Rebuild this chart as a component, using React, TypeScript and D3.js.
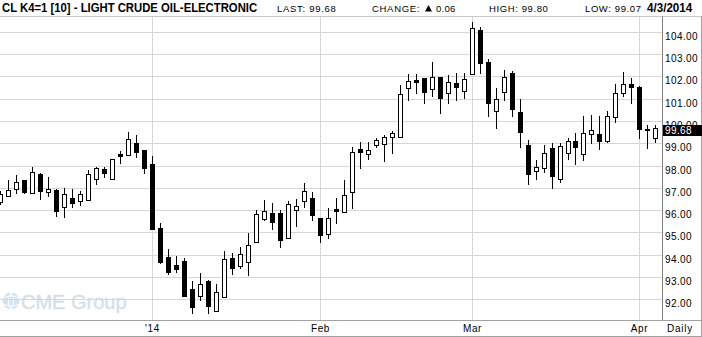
import React from 'react';
import * as d3 from 'd3';

const dates = [
  '2013-12-04','2013-12-05','2013-12-06','2013-12-09','2013-12-10','2013-12-11','2013-12-12','2013-12-13',
  '2013-12-16','2013-12-17','2013-12-18','2013-12-19','2013-12-20','2013-12-23','2013-12-24','2013-12-26',
  '2013-12-27','2013-12-30','2013-12-31',
  '2014-01-02','2014-01-03','2014-01-06','2014-01-07','2014-01-08','2014-01-09','2014-01-10','2014-01-13',
  '2014-01-14','2014-01-15','2014-01-16','2014-01-17','2014-01-21','2014-01-22','2014-01-23','2014-01-24',
  '2014-01-27','2014-01-28','2014-01-29','2014-01-30','2014-01-31',
  '2014-02-03','2014-02-04','2014-02-05','2014-02-06','2014-02-07','2014-02-10','2014-02-11','2014-02-12',
  '2014-02-13','2014-02-14','2014-02-18','2014-02-19','2014-02-20','2014-02-21','2014-02-24','2014-02-25',
  '2014-02-26','2014-02-27','2014-02-28',
  '2014-03-03','2014-03-04','2014-03-05','2014-03-06','2014-03-07','2014-03-10','2014-03-11','2014-03-12',
  '2014-03-13','2014-03-14','2014-03-17','2014-03-18','2014-03-19','2014-03-20','2014-03-21','2014-03-24',
  '2014-03-25','2014-03-26','2014-03-27','2014-03-28','2014-03-31',
  '2014-04-01','2014-04-02','2014-04-03',
];

const opens = [
  96.37, 96.64, 96.94, 97.35, 96.76, 97.62, 96.83, 96.91, 96.13, 96.53,
  96.41, 96.44, 97.39, 97.85, 97.39, 98.52, 98.46, 99.00, 98.70, 98.07,
  95.19, 93.91, 93.54, 93.72, 92.47, 92.17, 92.83, 91.49, 92.12, 93.87,
  93.51, 93.69, 94.56, 95.62, 95.87, 95.87, 94.74, 95.99, 96.40, 96.53,
  95.64, 94.92, 96.05, 95.92, 96.80, 98.73, 98.51, 98.92, 98.97, 99.27,
  99.30, 101.47, 101.84, 101.91, 101.42, 101.96, 101.24, 101.69, 101.35, 102.09,
  104.08, 102.63, 100.45, 101.29, 102.17, 100.39, 98.92, 97.76, 97.88, 98.78,
  97.40, 98.55, 99.10, 98.51, 99.40, 99.40, 99.12, 100.19, 101.24, 101.66,
  101.51, 99.65, 99.22,
];
const highs = [
  96.85, 97.35, 97.58, 97.37, 97.95, 97.68, 97.47, 96.94, 96.98, 96.94,
  96.86, 97.80, 97.95, 97.95, 98.31, 98.65, 99.49, 99.37, 98.72, 98.43,
  95.41, 94.26, 93.95, 93.84, 92.83, 93.17, 92.85, 92.69, 94.17, 94.09,
  94.36, 94.96, 96.01, 96.46, 96.31, 96.01, 96.41, 96.49, 97.21, 96.83,
  95.66, 96.09, 96.53, 97.35, 98.85, 99.07, 99.07, 99.25, 99.35, 99.55,
  101.61, 102.11, 102.09, 101.93, 102.63, 101.98, 102.06, 102.17, 102.17, 104.45,
  104.20, 102.78, 101.47, 102.29, 102.24, 100.97, 99.15, 98.25, 98.92, 99.00,
  99.00, 99.22, 99.48, 100.22, 100.27, 100.22, 100.45, 101.66, 102.18, 101.91,
  101.57, 99.81, 99.80,
];
const lows = [
  96.30, 96.64, 96.76, 96.78, 96.76, 96.50, 96.64, 95.75, 95.71, 96.13,
  96.23, 96.44, 97.16, 97.47, 97.39, 98.13, 98.46, 98.40, 97.65, 95.14,
  93.65, 93.14, 93.24, 92.17, 91.38, 91.97, 91.40, 91.49, 92.12, 93.14,
  93.42, 93.09, 94.56, 95.56, 95.14, 94.36, 94.74, 95.31, 96.16, 95.56,
  94.59, 94.77, 95.41, 95.92, 96.09, 97.88, 98.28, 98.82, 98.22, 98.58,
  99.30, 100.94, 101.27, 100.82, 101.13, 100.37, 100.82, 100.94, 101.05, 102.09,
  102.14, 100.24, 99.67, 100.94, 100.24, 98.85, 97.16, 97.39, 97.73, 96.98,
  97.25, 98.30, 98.06, 98.25, 99.03, 98.74, 99.07, 99.97, 101.13, 100.82,
  99.25, 98.80, 99.07,
];
const closes = [
  96.73, 96.91, 97.25, 96.83, 97.70, 96.87, 96.94, 95.98, 96.73, 96.31,
  96.71, 97.62, 97.88, 97.65, 98.28, 98.43, 99.18, 98.60, 97.91, 95.14,
  93.69, 93.24, 93.35, 92.17, 91.67, 92.69, 91.72, 92.32, 93.80, 93.42,
  94.02, 94.43, 95.83, 95.96, 95.48, 94.68, 96.26, 96.17, 96.86, 95.77,
  94.87, 95.64, 95.98, 96.68, 98.60, 98.60, 98.70, 99.15, 99.27, 99.45,
  101.20, 101.79, 101.76, 101.29, 101.99, 101.05, 101.73, 101.54, 101.87, 104.16,
  102.59, 100.79, 100.97, 101.96, 100.52, 99.52, 97.61, 97.92, 98.55, 97.55,
  98.88, 99.12, 98.82, 99.46, 99.58, 99.12, 100.21, 101.24, 101.66, 101.51,
  99.64, 99.62, 99.68,
];

const priceTicks = [92, 93, 94, 95, 96, 97, 98, 99, 100, 101, 102, 103, 104];
const monthTickDates = ['2014-01-02', '2014-02-03', '2014-03-03', '2014-04-01'];
const monthTickLabels = ["'14", 'Feb', 'Mar', 'Apr'];
const lastPrice = 99.68;

const W = 702;
const H = 337;
const PLOT_TOP = 16.5;
const PLOT_BOTTOM = 320.5;
const AXIS_X = 662.5;

export default function App() {
  const x = d3.scalePoint<string>().domain(dates).range([0.2, 655.4]);
  const y = d3.scaleLinear().domain([92, 104]).range([299.4, 31.8]);
  const font = "'Liberation Sans', Arial, sans-serif";

  return (
    <svg width={W} height={H} style={{ position: 'absolute', left: 0, top: 0, background: '#fff' }}>
      <rect x={0} y={0} width={W} height={H} fill="#fff" />
      {/* CME Group watermark */}
      <g>
        <circle cx={11} cy={301} r={8.5} fill="#d3e2ef" />
        <path d="M3,298 Q11,294 19,298 M3,304 Q11,308 19,304 M11,292.5 Q6,301 11,309.5 M11,292.5 Q16,301 11,309.5" stroke="#fff" strokeWidth={1} fill="none" />
        <text transform="translate(21,309) scale(1.0,1)" fontFamily={font} fontSize={20} fill="#d5dfe8" stroke="#d5dfe8" strokeWidth={0.4}>CME Group</text>
      </g>
      {/* horizontal gridlines */}
      {priceTicks.map((t) => (
        <line key={'g' + t} x1={0} x2={AXIS_X} y1={Math.round(y(t)) + 0.5} y2={Math.round(y(t)) + 0.5} stroke="#d6d6d6" strokeWidth={1} />
      ))}
      {/* vertical gridlines */}
      {monthTickDates.map((d) => (
        <line key={'v' + d} x1={Math.round(x(d)!) + 0.5} x2={Math.round(x(d)!) + 0.5} y1={PLOT_TOP} y2={PLOT_BOTTOM} stroke="#d6d6d6" strokeWidth={1} />
      ))}
      {/* candles */}
      {dates.map((d, i) => {
        const cx = Math.round(x(d)!);
        const o = opens[i];
        const c = closes[i];
        const up = c >= o;
        const top = Math.round(y(Math.max(o, c)));
        const bot = Math.round(y(Math.min(o, c)));
        const wt = Math.round(y(highs[i]));
        const wb = Math.round(y(lows[i]));
        return (
          <g key={d}>
            <line x1={cx + 0.5} x2={cx + 0.5} y1={wt} y2={wb + 1} stroke="#000" strokeWidth={1} />
            {up ? (
              <rect x={cx - 1.5} y={top + 0.5} width={4} height={Math.max(1, bot - top)} fill="#fff" stroke="#000" strokeWidth={1} />
            ) : (
              <rect x={cx - 2} y={top} width={5} height={Math.max(2, bot - top + 1)} fill="#000" />
            )}
          </g>
        );
      })}
      {/* frame lines */}
      <line x1={0} x2={W} y1={PLOT_TOP} y2={PLOT_TOP} stroke="#c8c8c8" />
      <line x1={AXIS_X} x2={AXIS_X} y1={PLOT_TOP} y2={PLOT_BOTTOM} stroke="#808080" />
      <line x1={0} x2={W} y1={PLOT_BOTTOM} y2={PLOT_BOTTOM} stroke="#a0a0a0" />
      <line x1={0} x2={W} y1={336.5} y2={336.5} stroke="#a0a0a0" />
      <line x1={W - 0.5} x2={W - 0.5} y1={PLOT_TOP} y2={H} stroke="#a0a0a0" />
      {/* price labels */}
      {priceTicks.map((t) => (
        <text key={'l' + t} x={665} y={Math.round(y(t)) + 7.5} fontFamily={font} fontSize={10} letterSpacing={0.4} fill="#000">
          {t.toFixed(2)}
        </text>
      ))}
      {/* last price box */}
      <rect x={663} y={Math.round(y(lastPrice)) - 3} width={W - 663} height={11} fill="#000" />
      <text x={665} y={Math.round(y(lastPrice)) + 6} fontFamily={font} fontSize={10} letterSpacing={0.4} fill="#fff">
        {lastPrice.toFixed(2)}
      </text>
      {/* month labels */}
      {monthTickDates.map((d, i) => (
        <text key={'m' + d} x={Math.round(x(d)!) + 0.5} y={332} textAnchor="middle" fontFamily={font} fontSize={10} letterSpacing={0.6} fill="#000">
          {monthTickLabels[i]}
        </text>
      ))}
      <text x={680} y={332} textAnchor="middle" fontFamily={font} fontSize={10} letterSpacing={0.8} fill="#000">Daily</text>
      {/* header */}
      <text transform="translate(2,12) scale(0.906,1)" fontFamily={font} fontSize={12.5} fontWeight="bold" fill="#000">
        CL K4=1 [10] - LIGHT CRUDE OIL-ELECTRONIC
      </text>
      <text x={277} y={12} fontFamily={font} fontSize={9.5} letterSpacing={0.7} fill="#000">LAST: 99.68</text>
      <text x={372} y={12} fontFamily={font} fontSize={9.5} letterSpacing={0.7} fill="#000">CHANGE:</text>
      <path d="M425,11.5 L432,11.5 L428.5,5 Z" fill="#000" />
      <text x={436} y={12} fontFamily={font} fontSize={9.5} letterSpacing={0.3} fill="#000">0.06</text>
      <text x={489} y={12} fontFamily={font} fontSize={9.5} letterSpacing={0.6} fill="#000">HIGH: 99.80</text>
      <text x={585} y={12} fontFamily={font} fontSize={9.5} letterSpacing={0.6} fill="#000">LOW: 99.07</text>
      <text transform="translate(647,12) scale(0.93,1)" fontFamily={font} fontSize={12.5} fontWeight="bold" fill="#000">4/3/2014</text>
    </svg>
  );
}
